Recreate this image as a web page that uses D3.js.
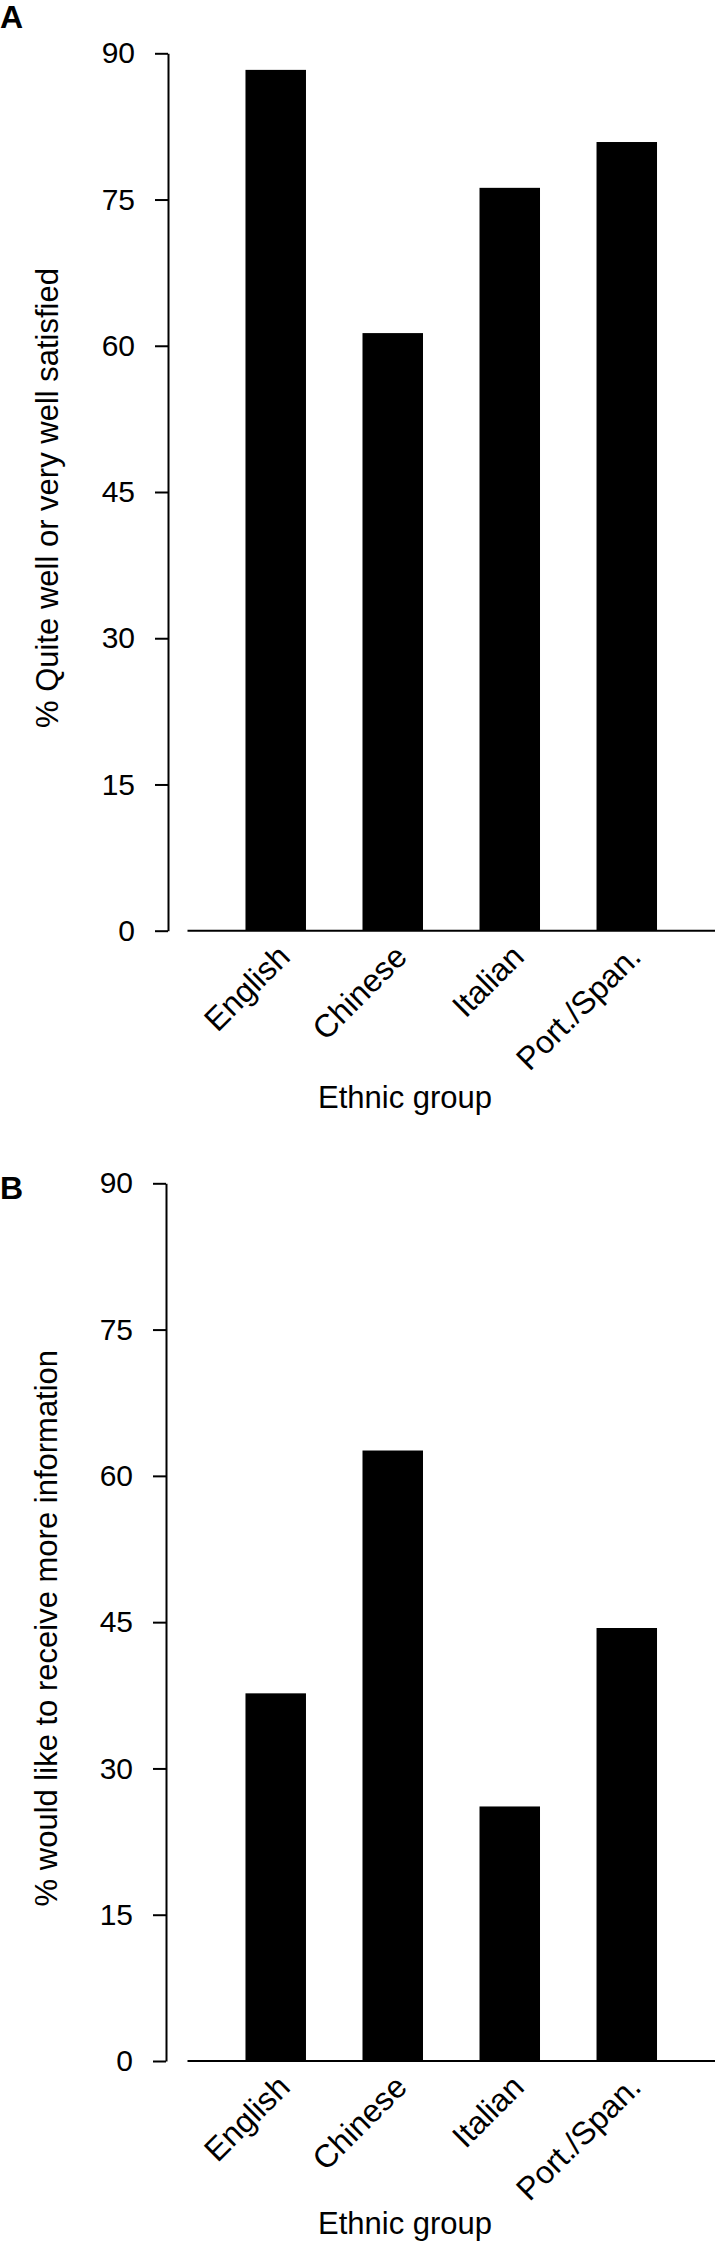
<!DOCTYPE html>
<html>
<head>
<meta charset="utf-8">
<script src="https://cdn.jsdelivr.net/npm/d3@7/dist/d3.min.js"></script>
<style>
  html, body { margin: 0; padding: 0; background: #fff; }
  svg { display: block; }
  text { font-family: "Liberation Sans", Arial, Helvetica, sans-serif; fill: #000; }
</style>
</head>
<body>
<svg id="chart" width="715" height="2242"></svg>
<script>
const categories = ["English", "Chinese", "Italian", "Port./Span."];
const satisfiedValues = [88.3, 61.3, 76.2, 80.9];
const moreInfoValues = [37.7, 62.6, 26.1, 44.4];
const yTicks = [0, 15, 30, 45, 60, 75, 90];
const panelLetters = ["A", "B"];
const yTitles = ["% Quite well or very well satisfied", "% would like to receive more information"];
const xTitle = "Ethnic group";

const svg = d3.select("#chart");

function drawPanel(cfg) {
  const g = svg.append("g");
  const y = d3.scaleLinear().domain([0, 90]).range([cfg.y0, cfg.y90]);
  const x = d3.scaleBand().domain(categories).range([187.5, 715])
    .paddingInner(0.483).paddingOuter(0.4955);

  // bars
  g.selectAll("rect.bar").data(cfg.values).join("rect")
    .attr("class", "bar")
    .attr("x", (d, i) => x(categories[i]))
    .attr("width", x.bandwidth())
    .attr("y", d => y(d))
    .attr("height", d => y(0) - y(d))
    .attr("fill", "#000");

  // x baseline
  g.append("line")
    .attr("x1", 187.5).attr("x2", 715)
    .attr("y1", y(0)).attr("y2", y(0))
    .attr("stroke", "#000").attr("stroke-width", 2);

  // y axis
  const ax = g.append("g")
    .attr("transform", `translate(${cfg.axisX},0)`)
    .call(d3.axisLeft(y).tickValues(yTicks).tickSize(13).tickSizeOuter(0).tickPadding(20));
  ax.selectAll("path.domain").attr("stroke", "#000").attr("stroke-width", 2);
  ax.selectAll(".tick line").attr("stroke", "#000").attr("stroke-width", 2);
  ax.selectAll(".tick text")
    .style("font-family", '"Liberation Sans", Arial, sans-serif')
    .style("font-size", "30px").attr("fill", "#000");

  // category labels
  g.selectAll("text.cat").data(categories).join("text")
    .attr("class", "cat")
    .attr("transform", d => `translate(${x(d) + x.bandwidth() / 2 + 16},${y(0) + 28}) rotate(-45)`)
    .attr("text-anchor", "end")
    .style("font-size", "32px")
    .text(d => d);

  // x title
  g.append("text")
    .attr("x", 405).attr("y", y(0) + cfg.xTitleOffset)
    .attr("text-anchor", "middle")
    .style("font-size", "31px")
    .text(xTitle);

  // y title
  g.append("text")
    .attr("transform", `translate(${cfg.yTitleX},${(y(0) + y(90)) / 2 + 6}) rotate(-90)`)
    .attr("text-anchor", "middle")
    .style("font-size", "31px")
    .text(cfg.yTitle);

  // panel letter
  g.append("text")
    .attr("x", 0).attr("y", cfg.letterY)
    .style("font-size", "32px").style("font-weight", "bold")
    .text(cfg.letter);
}

drawPanel({ values: satisfiedValues, y0: 930.7, y90: 53.3, axisX: 168, yTitle: yTitles[0],
  yTitleX: 58, xTitleOffset: 177, letter: panelLetters[0], letterY: 28 });
drawPanel({ values: moreInfoValues, y0: 2061, y90: 1183.3, axisX: 166, yTitle: yTitles[1],
  yTitleX: 57, xTitleOffset: 173, letter: panelLetters[1], letterY: 1199 });
</script>
</body>
</html>
